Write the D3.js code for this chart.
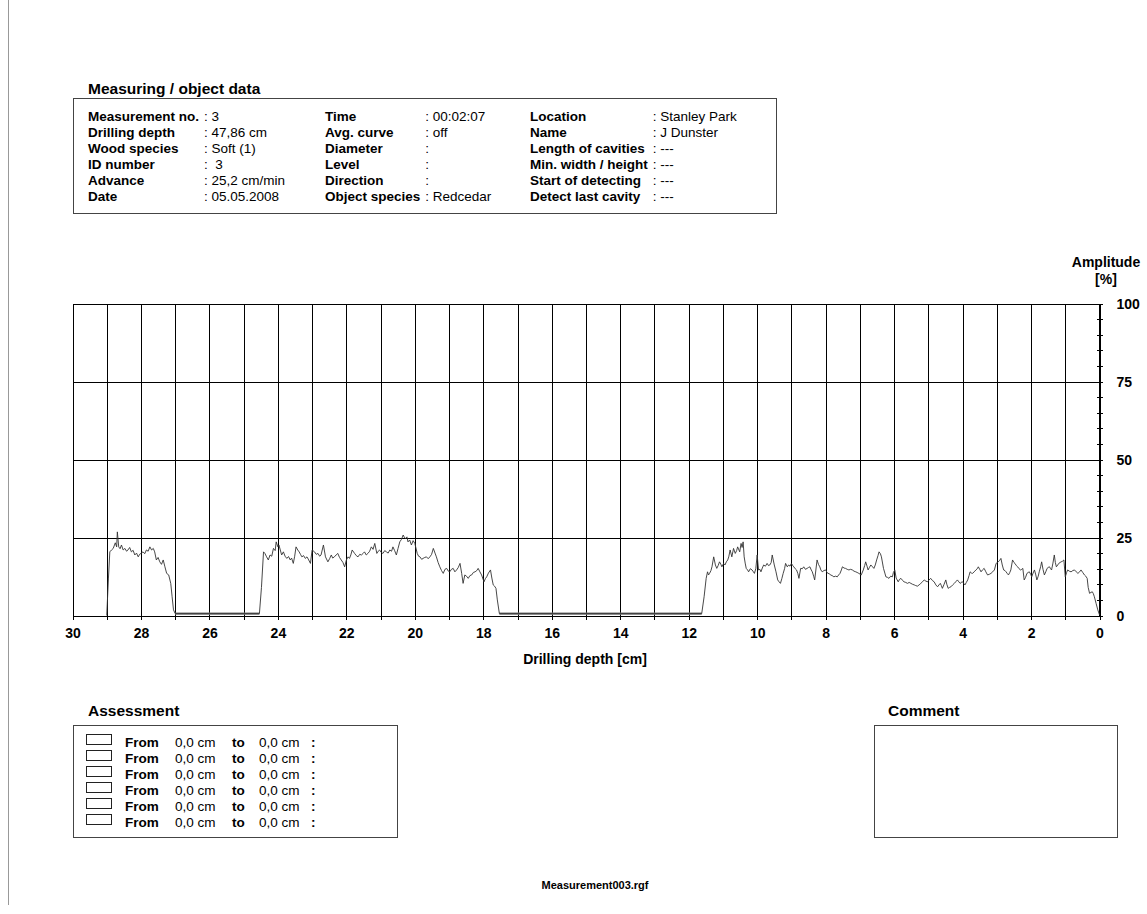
<!DOCTYPE html>
<html>
<head>
  <meta charset="UTF-8">
  <style>
    body { margin: 0; background: #fff; }
    svg text { font-family: "Liberation Sans", Arial, Helvetica, sans-serif; fill: #000; white-space: pre; }
  </style>
</head>
<body>
<svg></svg>
<script src="https://d3js.org/d3.v7.min.js"></script>

<script>

let width = 1147, height = 914;

// header table, three columns
let headerLabels1 = ["Measurement no.", "Drilling depth", "Wood species", "ID number", "Advance", "Date"];
let headerValues1 = ["3", "47,86 cm", "Soft (1)", " 3", "25,2 cm/min", "05.05.2008"];
let headerLabels2 = ["Time", "Avg. curve", "Diameter", "Level", "Direction", "Object species"];
let headerValues2 = ["00:02:07", "off", "", "", "", "Redcedar"];
let headerLabels3 = ["Location", "Name", "Length of cavities", "Min. width / height", "Start of detecting", "Detect last cavity"];
let headerValues3 = ["Stanley Park", "J Dunster", "---", "---", "---", "---"];

// assessment rows
let assessFrom = ["0,0 cm", "0,0 cm", "0,0 cm", "0,0 cm", "0,0 cm", "0,0 cm"];
let assessTo   = ["0,0 cm", "0,0 cm", "0,0 cm", "0,0 cm", "0,0 cm", "0,0 cm"];

// axes
let depthTicks = [30, 28, 26, 24, 22, 20, 18, 16, 14, 12, 10, 8, 6, 4, 2, 0];
let depthGrid = [30, 29, 28, 27, 26, 25, 24, 23, 22, 21, 20, 19, 18, 17, 16, 15, 14, 13, 12, 11, 10, 9, 8, 7, 6, 5, 4, 3, 2, 1, 0];
let ampTicks = [0, 25, 50, 75, 100];
let ampMinor = [5, 10, 15, 20, 30, 35, 40, 45, 55, 60, 65, 70, 80, 85, 90, 95];

// stretches where the needle met no resistance: [from cm, to cm]
let emptyRuns = [[27.00, 24.54], [17.53, 11.62]];

// drilling resistance profile: [depth cm, amplitude %]
let drillProfile = [
  [29.00,0],[28.95,12],[28.91,20.4],[28.86,21.0],[28.81,21.5],[28.75,23.3],[28.71,22.0],[28.69,26.8],[28.65,22.0],[28.61,21.4],
  [28.57,22.6],[28.52,21.0],[28.47,21.5],[28.42,20.6],[28.38,21.0],[28.33,21.8],[28.28,20.4],[28.23,20.9],[28.18,19.4],[28.13,20.0],
  [28.08,18.8],[28.04,19.6],[28.00,19.9],[27.94,20.4],[27.89,19.8],[27.84,21.0],[27.79,20.6],[27.74,22.0],[27.69,21.0],[27.64,21.5],
  [27.60,20.4],[27.55,17.8],[27.50,18.6],[27.45,17.2],[27.40,16.4],[27.35,17.8],[27.30,15.6],[27.25,13.5],[27.19,13.0],[27.13,10.3],
  [27.09,6.0],[27.05,1.8],[27.00,0.6],
  [24.54,0.6],[24.48,9],[24.42,20.4],[24.38,19.9],[24.33,18.8],[24.28,17.8],[24.23,19.4],[24.18,19.0],[24.13,21.5],[24.08,20.8],
  [24.05,23.6],[24.00,22.0],[23.97,22.6],[23.93,21.0],[23.89,19.4],[23.84,20.4],[23.79,19.0],[23.74,18.3],[23.69,18.9],[23.64,17.8],
  [23.60,18.4],[23.55,16.7],[23.51,19.0],[23.47,22.0],[23.42,21.0],[23.38,20.4],[23.34,19.6],[23.30,18.8],[23.25,19.2],[23.20,18.3],
  [23.15,18.8],[23.10,17.8],[23.05,16.7],[23.00,21.0],[22.93,20.4],[22.88,19.6],[22.83,19.9],[22.78,19.0],[22.74,19.4],[22.67,22.6],
  [22.61,18.8],[22.54,17.2],[22.49,18.2],[22.44,19.4],[22.40,18.4],[22.35,18.8],[22.30,19.4],[22.25,19.9],[22.20,18.6],[22.15,17.8],
  [22.10,17.0],[22.05,15.6],[22.00,17.8],[21.95,18.8],[21.91,18.3],[21.87,19.4],[21.83,21.0],[21.76,19.9],[21.71,19.2],[21.66,18.8],
  [21.61,19.6],[21.56,19.4],[21.51,19.9],[21.47,20.4],[21.42,19.4],[21.37,19.9],[21.32,20.6],[21.27,22.0],[21.22,21.2],[21.17,23.1],
  [21.11,19.9],[21.07,20.6],[21.03,21.0],[20.98,20.2],[20.93,19.9],[20.88,20.8],[20.83,20.4],[20.78,20.0],[20.73,21.0],[20.68,20.6],
  [20.64,22.0],[20.59,20.8],[20.54,19.4],[20.49,21.5],[20.44,23.6],[20.39,24.4],[20.34,25.8],[20.30,24.9],[20.27,24.7],[20.23,25.2],
  [20.20,23.6],[20.15,24.2],[20.10,22.6],[20.05,24.0],[20.00,23.1],[19.93,19.9],[19.89,19.0],[19.85,18.8],[19.80,18.0],[19.76,18.3],
  [19.71,18.6],[19.66,18.8],[19.61,18.2],[19.56,18.8],[19.51,19.6],[19.46,21.5],[19.41,20.0],[19.37,18.8],[19.32,17.0],[19.27,15.6],
  [19.22,14.4],[19.17,13.5],[19.12,14.8],[19.07,15.1],[19.02,14.2],[18.98,14.0],[18.93,14.8],[18.88,15.1],[18.83,14.0],[18.78,14.6],
  [18.73,15.4],[18.68,16.7],[18.63,13.4],[18.59,10.3],[18.54,13.0],[18.49,12.6],[18.44,11.9],[18.39,12.8],[18.34,13.0],[18.29,13.8],
  [18.24,14.0],[18.19,14.4],[18.15,15.1],[18.10,14.0],[18.05,13.0],[17.98,10.8],[17.94,11.8],[17.90,12.4],[17.85,13.6],[17.79,14.6],
  [17.75,12.0],[17.71,9.8],[17.67,9.4],[17.63,8.7],[17.59,5.0],[17.53,0.6],
  [11.62,0.6],[11.55,6.0],[11.49,11.9],[11.45,14.0],[11.42,13.0],[11.39,13.5],[11.35,14.4],[11.32,15.6],[11.27,18.8],[11.22,16.2],
  [11.18,15.1],[11.14,16.0],[11.10,17.2],[11.06,16.4],[11.03,15.6],[10.98,16.7],[10.94,16.2],[10.90,17.2],[10.86,17.8],[10.83,18.8],
  [10.79,21.0],[10.74,18.8],[10.69,21.5],[10.64,19.9],[10.60,20.8],[10.57,22.0],[10.51,20.4],[10.47,23.1],[10.44,21.8],[10.41,23.6],
  [10.38,18.8],[10.35,16.8],[10.32,15.1],[10.28,14.6],[10.25,14.0],[10.20,15.0],[10.15,14.6],[10.11,14.0],[10.08,13.5],[10.04,15.0],
  [10.00,19.4],[9.96,14.6],[9.92,14.8],[9.89,14.0],[9.85,15.2],[9.81,16.2],[9.76,15.8],[9.71,16.7],[9.67,16.0],[9.63,16.2],
  [9.59,17.0],[9.56,19.4],[9.50,16.2],[9.45,14.0],[9.40,11.4],[9.36,10.8],[9.32,10.3],[9.28,11.8],[9.24,13.5],[9.20,15.0],
  [9.17,16.7],[9.12,15.6],[9.08,16.2],[9.04,15.8],[9.00,16.7],[8.96,16.0],[8.93,15.6],[8.89,15.0],[8.85,14.6],[8.81,13.4],
  [8.78,11.9],[8.73,15.1],[8.68,15.0],[8.64,15.6],[8.59,14.8],[8.54,15.1],[8.50,15.4],[8.46,15.6],[8.42,14.6],[8.39,14.0],
  [8.35,12.6],[8.32,11.4],[8.25,17.8],[8.21,16.4],[8.17,15.6],[8.14,14.6],[8.10,14.0],[8.05,14.4],[8.00,14.6],[7.96,13.8],
  [7.93,13.5],[7.89,13.4],[7.86,13.0],[7.81,12.8],[7.76,12.4],[7.71,12.6],[7.66,12.4],[7.62,13.0],[7.58,13.5],[7.54,14.6],
  [7.51,15.6],[7.46,15.2],[7.42,15.1],[7.37,14.8],[7.32,14.6],[7.27,14.8],[7.22,14.6],[7.17,14.2],[7.12,14.0],[7.08,13.8],
  [7.03,13.5],[6.96,13.0],[6.90,14.6],[6.86,16.0],[6.83,17.2],[6.79,15.8],[6.76,14.6],[6.72,15.4],[6.68,16.2],[6.63,15.6],
  [6.59,15.1],[6.55,16.2],[6.51,17.8],[6.47,19.2],[6.44,20.4],[6.40,19.8],[6.37,18.8],[6.31,15.1],[6.27,13.6],[6.24,12.4],
  [6.19,12.2],[6.15,11.9],[6.10,12.6],[6.05,12.4],[6.02,13.8],[5.98,14.6],[5.94,12.0],[5.88,10.8],[5.84,11.6],[5.80,11.9],
  [5.75,11.2],[5.71,10.8],[5.66,10.6],[5.61,10.3],[5.56,10.6],[5.51,10.3],[5.46,10.0],[5.41,9.8],[5.37,9.6],[5.32,9.4],
  [5.27,9.8],[5.22,10.3],[5.17,10.8],[5.12,11.4],[5.07,11.0],[5.02,10.8],[4.98,11.4],[4.93,11.9],[4.88,11.2],[4.83,10.8],
  [4.78,9.8],[4.73,9.2],[4.69,9.8],[4.65,10.3],[4.62,9.6],[4.59,8.7],[4.54,10.0],[4.49,11.4],[4.46,10.0],[4.42,8.7],
  [4.38,9.0],[4.34,9.2],[4.29,9.8],[4.24,10.3],[4.20,10.8],[4.15,11.4],[4.11,10.8],[4.07,10.3],[4.04,10.6],[4.00,10.8],
  [3.96,10.2],[3.93,9.8],[3.89,10.6],[3.85,11.4],[3.81,12.8],[3.78,14.0],[3.74,13.6],[3.71,13.5],[3.66,14.0],[3.61,14.6],
  [3.57,15.0],[3.54,15.6],[3.50,14.8],[3.46,14.0],[3.42,14.6],[3.37,15.1],[3.32,14.0],[3.27,13.0],[3.22,13.2],[3.17,13.5],
  [3.12,14.0],[3.07,14.6],[3.02,16.7],[2.96,17.2],[2.92,17.6],[2.88,18.3],[2.84,16.2],[2.80,14.6],[2.76,14.4],[2.73,14.0],
  [2.69,13.4],[2.66,13.0],[2.62,13.8],[2.59,14.6],[2.54,17.8],[2.50,17.0],[2.47,16.7],[2.43,16.0],[2.39,15.6],[2.35,15.0],
  [2.31,14.6],[2.27,14.8],[2.24,15.1],[2.20,11.4],[2.16,12.2],[2.12,13.5],[2.08,13.8],[2.05,14.0],[2.01,13.2],[1.98,12.4],
  [1.94,13.6],[1.90,14.6],[1.86,13.0],[1.83,11.4],[1.79,12.6],[1.76,14.0],[1.72,15.6],[1.69,17.2],[1.65,14.8],[1.61,13.0],
  [1.57,14.0],[1.53,15.1],[1.50,15.4],[1.46,15.6],[1.43,15.0],[1.40,14.6],[1.36,16.8],[1.32,19.4],[1.29,17.0],[1.26,15.6],
  [1.22,16.2],[1.19,16.7],[1.15,17.0],[1.12,17.2],[1.08,17.4],[1.04,17.8],[1.00,12.4],[0.96,13.8],[0.93,14.6],[0.88,14.2],
  [0.83,14.0],[0.78,14.4],[0.73,14.6],[0.68,14.0],[0.63,13.5],[0.58,14.0],[0.54,14.6],[0.49,13.8],[0.44,13.0],[0.40,12.6],
  [0.36,11.9],[0.33,9.0],[0.29,7.1],[0.25,7.4],[0.21,7.6],[0.18,7.0],[0.15,6.0],[0.10,3.9],[0.05,1.8],[0.00,0.2]
];

let svg = d3.select("svg")
    .attr("width", width)
    .attr("height", height)
    .attr("viewBox", "0 0 " + width + " " + height);

function txt(g, x, y, s, size, weight, anchor) {
    return g.append("text")
        .attr("x", x)
        .attr("y", y)
        .attr("font-size", size)
        .attr("font-weight", weight || "normal")
        .attr("text-anchor", anchor || "start")
        .text(s);
}

// page edge
svg.append("line")
    .attr("x1", 8.5).attr("x2", 8.5)
    .attr("y1", 0).attr("y2", 905)
    .attr("stroke", "#999");

// ---------- header ----------
let head = svg.append("g");
txt(head, 88, 94, "Measuring / object data", 15.5, "bold");
head.append("rect")
    .attr("x", 73.5).attr("y", 98.5)
    .attr("width", 703).attr("height", 115)
    .attr("fill", "none").attr("stroke", "#444");

let hdrCols = [
    {x: 88, labels: headerLabels1, values: headerValues1},
    {x: 325, labels: headerLabels2, values: headerValues2},
    {x: 530, labels: headerLabels3, values: headerValues3}
];
hdrCols.forEach(col => {
    // colon column sits just after the widest label
    let widest = 0;
    col.labels.forEach((l, i) => {
        let t = txt(head, col.x, 121 + i * 16, l, 13.5, "bold");
        widest = Math.max(widest, t.node().getComputedTextLength());
    });
    let cx = col.x + widest + 5;
    col.values.forEach((v, i) => {
        txt(head, cx, 121 + i * 16, ": " + v, 13.5, "normal");
    });
});

// ---------- chart ----------
let x = d3.scaleLinear().domain([30, 0]).range([72.5, 1099.5]);
let y = d3.scaleLinear().domain([0, 100]).range([615.5, 303.5]);
let plotW = x(0) - x(30), plotH = y(0) - y(100);

let chart = svg.append("g");

// vertical grid + bottom ticks
let gx = chart.append("g")
    .attr("transform", "translate(0," + y(0) + ")")
    .call(d3.axisBottom(x).tickValues(depthGrid).tickSizeInner(4).tickSizeOuter(0).tickFormat(""));
gx.select(".domain").remove();
gx.selectAll(".tick line").attr("y1", -plotH).attr("y2", 4).attr("stroke", "#000");

// horizontal grid
let gy = chart.append("g")
    .attr("transform", "translate(" + x(0) + ",0)")
    .call(d3.axisRight(y).tickValues(ampTicks).tickSizeOuter(0).tickPadding(11).tickFormat(d3.format("d")));
gy.select(".domain").remove();
gy.selectAll(".tick line").attr("x1", -plotW).attr("x2", 3).attr("stroke", "#000");
gy.selectAll(".tick text")
    .attr("font-family", "Liberation Sans, Arial, sans-serif")
    .attr("font-size", 14).attr("font-weight", "bold").attr("fill", "#000")
    .attr("dy", "0.36em");

// minor ticks on right axis
let gm = chart.append("g")
    .attr("transform", "translate(" + x(0) + ",0)")
    .call(d3.axisRight(y).tickValues(ampMinor).tickSize(3).tickFormat(""));
gm.select(".domain").remove();
gm.selectAll(".tick line").attr("x1", -3).attr("stroke", "#000");

// right axis line
chart.append("line")
    .attr("x1", x(0)).attr("x2", x(0))
    .attr("y1", y(100)).attr("y2", y(0))
    .attr("stroke", "#000");

// x labels
let gl = chart.append("g")
    .attr("transform", "translate(0," + y(0) + ")")
    .call(d3.axisBottom(x).tickValues(depthTicks).tickSize(0).tickPadding(13).tickFormat(d3.format("d")));
gl.select(".domain").remove();
gl.selectAll(".tick text")
    .attr("font-family", "Liberation Sans, Arial, sans-serif")
    .attr("font-size", 14).attr("font-weight", "bold").attr("fill", "#000");

chart.selectAll("line").attr("shape-rendering", "crispEdges");

// flat, empty stretches show as a thicker grey band
chart.append("g")
    .selectAll("line")
    .data(emptyRuns)
    .enter()
    .append("line")
    .attr("x1", d => x(d[0]))
    .attr("x2", d => x(d[1]))
    .attr("y1", y(0.6))
    .attr("y2", y(0.6))
    .attr("stroke", "#777")
    .attr("stroke-width", 2.2);

// curve
let line = d3.line()
    .x(d => x(d[0]))
    .y(d => y(d[1]));

chart.append("path")
    .datum(drillProfile)
    .attr("d", line)
    .attr("fill", "none")
    .attr("stroke", "#333")
    .attr("stroke-width", 0.9)
    .attr("stroke-linejoin", "round");

// axis titles
txt(chart, 585, 664, "Drilling depth [cm]", 14, "bold", "middle");
txt(chart, 1106, 267, "Amplitude", 14, "bold", "middle");
txt(chart, 1106, 284, "[%]", 14, "bold", "middle");

// ---------- assessment ----------
let asg = svg.append("g");
txt(asg, 88, 716, "Assessment", 15.5, "bold");
asg.append("rect")
    .attr("x", 73.5).attr("y", 725.5)
    .attr("width", 324).attr("height", 112)
    .attr("fill", "none").attr("stroke", "#444");

assessFrom.forEach((f, i) => {
    let by = 747 + i * 16;
    asg.append("rect")
        .attr("x", 86.5).attr("y", by - 12.5)
        .attr("width", 25).attr("height", 10)
        .attr("fill", "none").attr("stroke", "#222");
    txt(asg, 125, by, "From", 13.5, "bold");
    txt(asg, 175, by, f, 13.5, "normal");
    txt(asg, 232, by, "to", 13.5, "bold");
    txt(asg, 259, by, assessTo[i], 13.5, "normal");
    txt(asg, 311, by, ":", 13.5, "bold");
});

// ---------- comment ----------
let cg = svg.append("g");
txt(cg, 888, 716, "Comment", 15.5, "bold");
cg.append("rect")
    .attr("x", 874.5).attr("y", 725.5)
    .attr("width", 243).attr("height", 112)
    .attr("fill", "none").attr("stroke", "#444");

// footer
txt(svg, 595, 889, "Measurement003.rgf", 11, "bold", "middle");

</script>

</body>
</html>
